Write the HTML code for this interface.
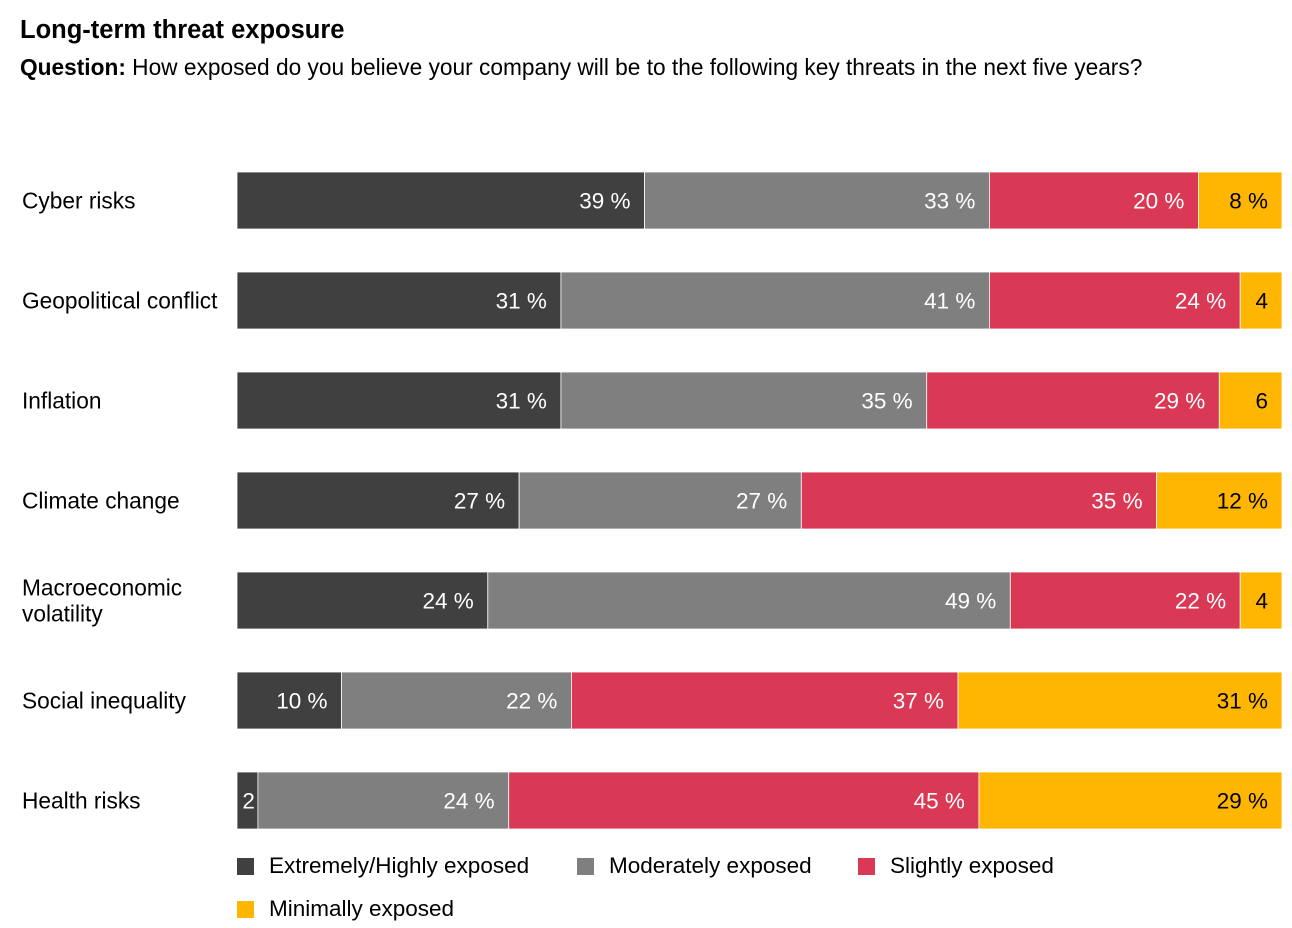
<!DOCTYPE html>
<html><head><meta charset="utf-8">
<style>
body{margin:0;background:#fff;font-family:"Liberation Sans",Arial,sans-serif;color:#000;width:1292px;height:928px;overflow:hidden;position:relative}
.t{position:absolute;left:20px;top:16px;font-size:25.5px;font-weight:bold}
.q{position:absolute;left:20px;top:54px;font-size:22.7px}
.leg{position:absolute;font-size:22.5px;display:flex;align-items:center}
.sw{width:17px;height:17px;margin-right:15px}
</style></head><body>
<div class="t">Long-term threat exposure</div>
<div class="q"><b>Question:</b> How exposed do you believe your company will be to the following key threats in the next five years?</div>
<svg id="c" width="1292" height="928" style="position:absolute;left:0;top:0"></svg>
<div class="leg" style="left:237px;top:853px"><div class="sw" style="background:#404040"></div>Extremely/Highly exposed</div>
<div class="leg" style="left:577px;top:853px"><div class="sw" style="background:#7f7f7f"></div>Moderately exposed</div>
<div class="leg" style="left:858px;top:853px"><div class="sw" style="background:#d93954"></div>Slightly exposed</div>
<div class="leg" style="left:237px;top:896px"><div class="sw" style="background:#ffb600"></div>Minimally exposed</div>
<script>
const categories=["Cyber risks","Geopolitical conflict","Inflation","Climate change","Macroeconomic|volatility","Social inequality","Health risks"];
const extremely=[39,31,31,27,24,10,2];
const moderately=[33,41,35,27,50,22,24];
const slightly=[20,24,28,34,22,37,45];
const minimally=[8,4,6,12,4,31,29];
const labels=[
["39 %","33 %","20 %","8 %"],["31 %","41 %","24 %","4"],["31 %","35 %","29 %","6"],
["27 %","27 %","35 %","12 %"],["24 %","49 %","22 %","4"],["10 %","22 %","37 %","31 %"],["2","24 %","45 %","29 %"]];
const series=[extremely,moderately,slightly,minimally];
const colors=["#404040","#7f7f7f","#d93954","#ffb600"];
const names=["extremely","moderately","slightly","minimally"];
const svg=document.getElementById('c');const NS="http://www.w3.org/2000/svg";
const x0=237,W=1045,y0=172,step=100,bh=57;
categories.forEach((cat,i)=>{
  const total=series.reduce((s,a)=>s+a[i],0);
  const xs=v=>v/total*W;
  const y=y0+i*step;
  const t=document.createElementNS(NS,'text');
  
  
  t.setAttribute('x',22);t.setAttribute('font-size','22.7');
  const parts=cat.split('|');
  if(parts.length===1){t.setAttribute('y',y+bh/2+8);t.textContent=cat;}
  else{parts.forEach((p,k)=>{const ts=document.createElementNS(NS,'tspan');ts.setAttribute('x',22);ts.setAttribute('y',y+bh/2-5+k*26);ts.textContent=p;t.appendChild(ts);});}
  svg.appendChild(t);
  let cx=x0;
  series.forEach((arr,j)=>{
    const w=xs(arr[i]);
    const r=document.createElementNS(NS,'rect');
    
    
    r.setAttribute('x',cx);r.setAttribute('y',y);r.setAttribute('width',w);r.setAttribute('height',bh);
    r.setAttribute('fill',colors[j]);r.setAttribute('stroke','#fff');r.setAttribute('stroke-width','0.8');
    svg.appendChild(r);
    const l=document.createElementNS(NS,'text');
    
    
    l.setAttribute('x',cx+w-(w<25?3:14));l.setAttribute('y',y+bh/2+8);
    l.setAttribute('text-anchor','end');l.setAttribute('font-size','22.5');
    l.setAttribute('fill',j===3?'#000':'#fff');
    l.textContent=labels[i][j];
    svg.appendChild(l);
    cx+=w;
  });
});
</script>
</body></html>
